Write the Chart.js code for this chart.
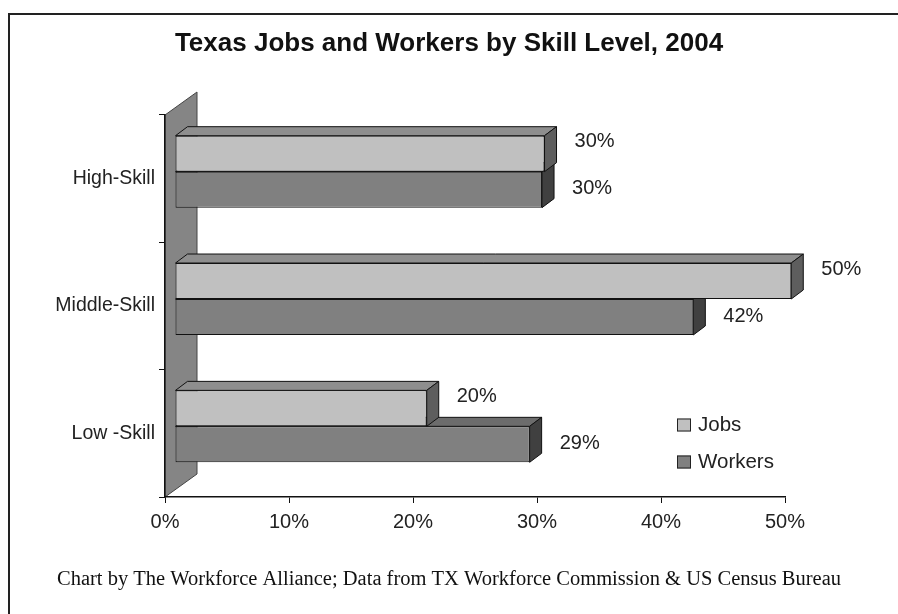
<!DOCTYPE html>
<html>
<head>
<meta charset="utf-8">
<title>Texas Jobs and Workers by Skill Level, 2004</title>
<script src="https://cdn.jsdelivr.net/npm/chart.js@4.4.1/dist/chart.umd.min.js"></script>
<style>
  html, body { margin: 0; padding: 0; background: #fff; overflow: hidden; }
  #wrap { position: relative; width: 898px; height: 614px; }
  #frame {
    position: absolute; left: 8px; top: 13px; width: 1000px; height: 700px;
    border-left: 2px solid #222; border-top: 2px solid #222;
  }
  #chart { position: absolute; left: 0; top: 0; }
</style>
</head>
<body>
<div id="wrap">
  <div id="frame"></div>
  <canvas id="chart" width="898" height="614"></canvas>
</div>
<script>
// data
const categories = ['High-Skill', 'Middle-Skill', 'Low -Skill'];
const jobsShare = [29.8, 49.7, 20.3];
const workersShare = [29.6, 41.8, 28.6];
const xTicks = [0, 10, 20, 30, 40, 50];

const chartTitle = 'Texas Jobs and Workers by Skill Level, 2004';
const chartSource = 'Chart by The Workforce Alliance; Data from TX Workforce Commission & US Census Bureau';

const SANS = '"Liberation Sans", Arial, sans-serif';
const SERIF = '"Liberation Serif", "Times New Roman", serif';

// 3D look: bars sit a little behind the axis plane
const shiftX = 10, shiftY = -7;   // front of bars vs axis plane
const depthX = 12, depthY = -9;   // bar depth
const wallX = 32, wallY = -23;    // back wall depth

const faces = [
  { top: '#8e8e8e', side: '#5e5e5e' },  // Jobs
  { top: '#6c6c6c', side: '#404040' }   // Workers
];

function poly(ctx, pts, fill) {
  ctx.beginPath();
  ctx.moveTo(pts[0][0], pts[0][1]);
  for (let i = 1; i < pts.length; i++) ctx.lineTo(pts[i][0], pts[i][1]);
  ctx.closePath();
  ctx.fillStyle = fill;
  ctx.fill();
  ctx.stroke();
}

const bar3d = {
  id: 'bar3d',
  beforeDraw(chart) {
    const { ctx, chartArea: a } = chart;
    ctx.save();
    ctx.strokeStyle = '#444';
    ctx.lineWidth = 1;
    poly(ctx, [
      [a.left, a.bottom], [a.left, a.top],
      [a.left + wallX, a.top + wallY], [a.left + wallX, a.bottom + wallY]
    ], '#858585');
    ctx.restore();
  },
  beforeDatasetsDraw(chart) {
    chart.ctx.save();
    chart.ctx.translate(shiftX, shiftY);
  },
  beforeDatasetDraw(chart, args) {
    const ctx = chart.ctx;
    const f = faces[args.index];
    ctx.save();
    ctx.strokeStyle = '#111';
    ctx.lineWidth = 1;
    args.meta.data.forEach(bar => {
      const { x, y, base, height } = bar.getProps(['x', 'y', 'base', 'height'], true);
      const top = y - height / 2, bottom = y + height / 2;
      poly(ctx, [[base, top], [x, top], [x + depthX, top + depthY], [base + depthX, top + depthY]], f.top);
      poly(ctx, [[x, top], [x + depthX, top + depthY], [x + depthX, bottom + depthY], [x, bottom]], f.side);
    });
    ctx.restore();
  },
  afterDatasetsDraw(chart) {
    const { ctx, chartArea: a } = chart;
    // value labels
    ctx.font = '20px ' + SANS;
    ctx.fillStyle = '#222';
    ctx.textAlign = 'left';
    ctx.textBaseline = 'middle';
    chart.data.datasets.forEach((ds, i) => {
      chart.getDatasetMeta(i).data.forEach((bar, j) => {
        const dy = i === 0 ? -12 : -1;
        ctx.fillText(Math.round(ds.data[j]) + '%', bar.x + 30, bar.y + dy);
      });
    });
    ctx.restore();

    // legend
    ctx.save();
    ctx.font = '20.5px ' + SANS;
    ctx.textBaseline = 'middle';
    ctx.strokeStyle = '#222';
    ctx.lineWidth = 1;
    chart.data.datasets.forEach((ds, i) => {
      const cy = a.bottom - 72 + i * 37;
      const sx = a.right - 108;
      ctx.fillStyle = ds.backgroundColor;
      ctx.fillRect(sx, cy - 6.5, 14, 13);
      ctx.strokeRect(sx + 0.5, cy - 6, 13, 12);
      ctx.fillStyle = '#222';
      ctx.fillText(ds.label, sx + 21, cy);
    });
    ctx.restore();
  },
  afterDraw(chart) {
    // title and source line, centred on the whole picture
    const ctx = chart.ctx;
    const cx = chart.width / 2;
    ctx.save();
    ctx.textAlign = 'center';
    ctx.textBaseline = 'middle';
    ctx.fillStyle = '#111';
    ctx.font = 'bold 26px ' + SANS;
    ctx.fillText(chartTitle, cx, 44);
    ctx.font = '20.5px ' + SERIF;
    ctx.fillText(chartSource, cx, 580);
    ctx.restore();
  }
};

new Chart(document.getElementById('chart'), {
  type: 'bar',
  data: {
    labels: categories,
    datasets: [
      {
        label: 'Jobs',
        data: jobsShare,
        backgroundColor: '#c0c0c0',
        borderColor: '#111',
        borderWidth: 1,
        borderSkipped: false,
        clip: false
      },
      {
        label: 'Workers',
        data: workersShare,
        backgroundColor: '#808080',
        borderColor: '#111',
        borderWidth: 1,
        borderSkipped: false,
        clip: false
      }
    ]
  },
  options: {
    indexAxis: 'y',
    responsive: false,
    animation: false,
    categoryPercentage: 0.565,
    barPercentage: 1,
    layout: { padding: { top: 115, right: 113, bottom: 55, left: 0 } },
    plugins: {
      legend: { display: false },
      tooltip: { enabled: false },
      title: { display: false }
    },
    scales: {
      x: {
        type: 'linear',
        min: 0,
        max: 50,
        afterBuildTicks: s => { s.ticks = xTicks.map(v => ({ value: v })); },
        afterFit: s => { s.height = 62; },
        grid: { drawOnChartArea: false, tickLength: 6, color: '#111' },
        border: { display: true, color: '#111', width: 1.5 },
        ticks: {
          callback: v => v + '%',
          color: '#222',
          padding: 7,
          maxRotation: 0,
          font: { family: SANS, size: 20 }
        }
      },
      y: {
        afterFit: s => { s.width = 165; },
        grid: { offset: true, drawOnChartArea: false, tickLength: 6, color: '#111' },
        border: { display: true, color: '#111', width: 1.5 },
        ticks: {
          color: '#222',
          padding: 4,
          font: { family: SANS, size: 19.5 }
        }
      }
    }
  },
  plugins: [bar3d]
});
</script>
</body>
</html>
